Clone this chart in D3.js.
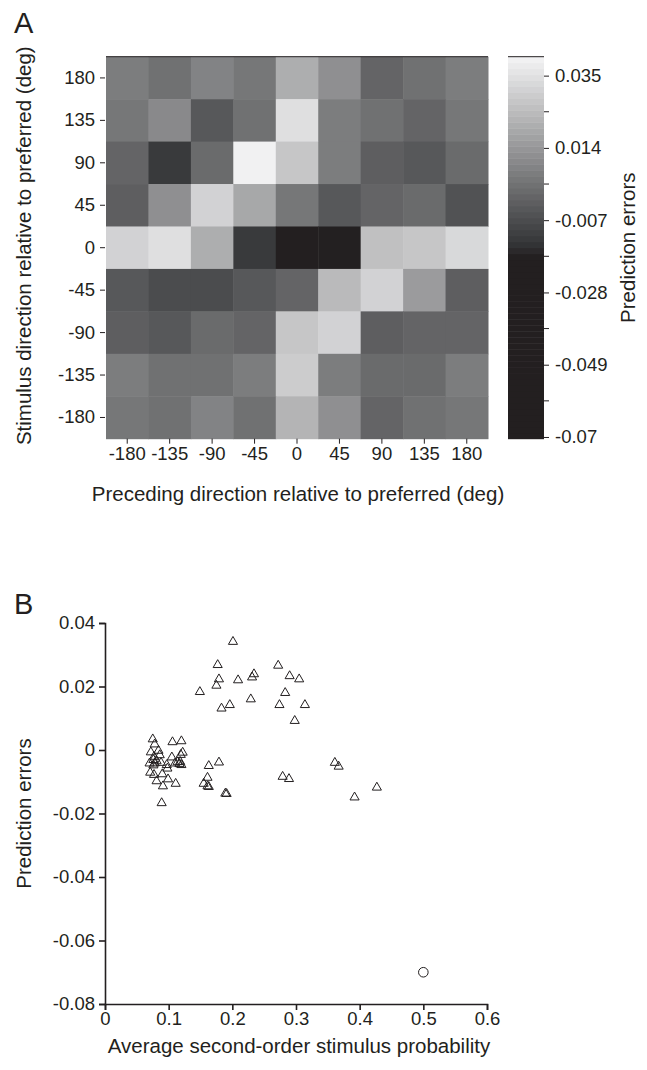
<!DOCTYPE html>
<html>
<head>
<meta charset="utf-8">
<script src="https://cdn.jsdelivr.net/npm/d3@7"></script>
<style>
  body { margin: 0; background: #fff; }
  svg { font-family: "Liberation Sans", Arial, sans-serif; }
  text { fill: #231f20; }
</style>
</head>
<body>
<svg width="647" height="1070"></svg>
<script>
// ---- panel A data ----
var precedingDirs = [-180, -135, -90, -45, 0, 45, 90, 135, 180];
var stimulusDirs = [180, 135, 90, 45, 0, -45, -90, -135, -180];

// rows follow stimulusDirs (top to bottom), columns follow precedingDirs
var errRow180 = [0.0060, 0.0024, 0.0085, 0.0049, 0.0205, 0.0124, -0.0007, 0.0037, 0.0060];
var errRow135 = [0.0049, 0.0093, -0.0035, 0.0032, 0.0349, 0.0060, 0.0026, -0.0007, 0.0049];
var errRow90 = [-0.0007, -0.0124, 0.0012, 0.0400, 0.0283, 0.0062, -0.0027, -0.0035, 0.0007];
var errRow45 = [-0.0013, 0.0124, 0.0302, 0.0193, 0.0046, -0.0035, -0.0007, 0.0007, -0.0052];
var errRow0 = [0.0313, 0.0341, 0.0205, -0.0132, -0.0700, -0.0169, 0.0249, 0.0283, 0.0333];
var errRowM45 = [-0.0038, -0.0071, -0.0074, -0.0043, -0.0007, 0.0244, 0.0305, 0.0157, -0.0027];
var errRowM90 = [-0.0027, -0.0038, 0.0007, -0.0007, 0.0283, 0.0305, -0.0027, -0.0007, -0.0007];
var errRowM135 = [0.0060, 0.0026, 0.0024, 0.0060, 0.0288, 0.0060, 0.0007, 0.0012, 0.0071];
var errRowM180 = [0.0046, 0.0037, 0.0082, 0.0040, 0.0218, 0.0115, -0.0007, 0.0037, 0.0046];

var colorbarTicks = [0.035, 0.014, -0.007, -0.028, -0.049, -0.07];
var colorbarMinor = [0.0245, 0.0035, -0.0175, -0.0385, -0.0595];

// ---- panel B data ----
var probUpper = [0.201, 0.177, 0.272, 0.179, 0.175, 0.209, 0.234, 0.231, 0.290, 0.305, 0.149, 0.283, 0.229, 0.183, 0.196, 0.274, 0.314, 0.298];
var errUpper = [0.0341, 0.0268, 0.0266, 0.0223, 0.0203, 0.0220, 0.0239, 0.0229, 0.0233, 0.0223, 0.0183, 0.0180, 0.0160, 0.0131, 0.0142, 0.0142, 0.0142, 0.0092];

var probLower = [0.361, 0.367, 0.279, 0.289, 0.427, 0.392,
  0.163, 0.179, 0.161, 0.155, 0.161, 0.163, 0.189, 0.191];
var errLower = [-0.0040, -0.0052, -0.0084, -0.0091, -0.0118, -0.0149,
  -0.0050, -0.0039, -0.0087, -0.0106, -0.0114, -0.0116, -0.0137, -0.0138];

var probCluster = [0.075, 0.078, 0.106, 0.120, 0.072, 0.084, 0.086, 0.122, 0.119, 0.105,
  0.070, 0.076, 0.078, 0.077, 0.088, 0.097, 0.098, 0.110, 0.114, 0.120, 0.118,
  0.071, 0.077, 0.090, 0.081, 0.099, 0.091, 0.111, 0.089, 0.076, 0.081, 0.117];
var errCluster = [0.0034, 0.0018, 0.0025, 0.0028, -0.0007, -0.0002, -0.0016, -0.0008, -0.0015, -0.0023,
  -0.0042, -0.0031, -0.0042, -0.0021, -0.0040, -0.0047, -0.0058, -0.0042, -0.0038, -0.0047, -0.0037,
  -0.0071, -0.0078, -0.0076, -0.0098, -0.0092, -0.0114, -0.0106, -0.0167, -0.0048, -0.0035, -0.0044];

var probOutlier = [0.5];
var errOutlier = [-0.07];

var xTicksB = [0, 0.1, 0.2, 0.3, 0.4, 0.5, 0.6];
var yTicksB = [0.04, 0.02, 0, -0.02, -0.04, -0.06, -0.08];

var ink = "#231f20";
var tickFont = 18.5, titleFont = 20.5;
var svg = d3.select("svg");

// plain hyphen for negatives, like the original figure
var plain = function(d) { return String(d); };

// ================= panel A =================
var matrix = [errRow180, errRow135, errRow90, errRow45, errRow0, errRowM45, errRowM90, errRowM135, errRowM180];
var cells = [];
matrix.forEach(function(row, i) {
    row.forEach(function(v, j) {
        cells.push({stim: stimulusDirs[i], prev: precedingDirs[j], value: v});
    });
});

var hm = {left: 106, top: 56.7, size: 382};

var xA = d3.scaleBand().domain(precedingDirs).range([hm.left, hm.left + hm.size]);
var yA = d3.scaleBand().domain(stimulusDirs).range([hm.top, hm.top + hm.size]);

var cDomain = [-0.0705, 0.0405];
var grey = d3.scaleLinear()
    .domain([-0.0177, -0.014, 0.0405])
    .range([ink, "#333436", "#f4f4f5"])
    .clamp(true);
var nLevels = 64;
var levels = d3.range(nLevels).map(function(k) {
    return grey(cDomain[0] + (k + 0.5) * (cDomain[1] - cDomain[0]) / nLevels);
});
var color = d3.scaleQuantize().domain(cDomain).range(levels);

svg.append("g").selectAll("rect")
    .data(cells)
    .join("rect")
    .attr("x", function(d) { return xA(d.prev); })
    .attr("y", function(d) { return yA(d.stim); })
    .attr("width", xA.bandwidth() + 0.5)
    .attr("height", yA.bandwidth() + 0.5)
    .attr("fill", function(d) { return color(d.value); });

svg.append("line")
    .attr("x1", hm.left).attr("x2", hm.left + hm.size)
    .attr("y1", hm.top).attr("y2", hm.top)
    .attr("stroke", ink).attr("stroke-width", 1);

var axA_y = svg.append("g")
    .attr("transform", "translate(" + (hm.left - 1) + ",0)")
    .call(d3.axisLeft(yA).tickSize(5).tickPadding(5));
var axA_x = svg.append("g")
    .attr("transform", "translate(0," + (hm.top + hm.size) + ")")
    .call(d3.axisBottom(xA).tickSize(5).tickPadding(3));
[axA_y, axA_x].forEach(function(g) {
    g.select(".domain").remove();
    g.selectAll(".tick line").attr("stroke", ink);
    g.selectAll(".tick text").attr("font-size", tickFont).attr("fill", ink);
});

svg.append("text")
    .attr("x", 298).attr("y", 501)
    .attr("text-anchor", "middle")
    .attr("font-size", titleFont)
    .text("Preceding direction relative to preferred (deg)");

svg.append("text")
    .attr("transform", "translate(31," + (hm.top + hm.size / 2 - 2) + ") rotate(-90)")
    .attr("text-anchor", "middle")
    .attr("font-size", titleFont)
    .text("Stimulus direction relative to preferred (deg)");

svg.append("text")
    .attr("x", 14).attr("y", 33)
    .attr("font-size", 29)
    .text("A");

// colorbar
var cb = {left: 508, width: 36};
var yC = d3.scaleLinear().domain(cDomain).range([hm.top + hm.size, hm.top]);
svg.append("g").selectAll("rect")
    .data(levels)
    .join("rect")
    .attr("x", cb.left)
    .attr("width", cb.width)
    .attr("y", function(d, k) { return yC(cDomain[0] + (k + 1) * (cDomain[1] - cDomain[0]) / nLevels); })
    .attr("height", function(d, k) {
        return yC(cDomain[0] + k * (cDomain[1] - cDomain[0]) / nLevels) -
               yC(cDomain[0] + (k + 1) * (cDomain[1] - cDomain[0]) / nLevels) + 0.5;
    })
    .attr("fill", function(d) { return d; });

svg.append("line")
    .attr("x1", cb.left).attr("x2", cb.left + cb.width)
    .attr("y1", hm.top).attr("y2", hm.top)
    .attr("stroke", ink).attr("stroke-width", 1);

var axC = svg.append("g")
    .attr("transform", "translate(" + (cb.left + cb.width) + ",0)")
    .call(d3.axisRight(yC).tickValues(colorbarTicks).tickFormat(plain).tickSize(5).tickPadding(6));
axC.select(".domain").remove();
axC.selectAll(".tick line").attr("stroke", ink);
axC.selectAll(".tick text").attr("font-size", tickFont).attr("fill", ink);

svg.append("g")
    .attr("transform", "translate(" + (cb.left + cb.width) + ",0)")
    .selectAll("line")
    .data(colorbarMinor)
    .join("line")
    .attr("x1", 0).attr("x2", 5)
    .attr("y1", function(d) { return yC(d); })
    .attr("y2", function(d) { return yC(d); })
    .attr("stroke", ink);

svg.append("text")
    .attr("transform", "translate(635," + (hm.top + hm.size / 2) + ") rotate(-90)")
    .attr("text-anchor", "middle")
    .attr("font-size", titleFont)
    .text("Prediction errors");

// ================= panel B =================
var xB = d3.scaleLinear().domain([0, 0.6]).range([105, 487]);
var yB = d3.scaleLinear().domain([-0.08, 0.04]).range([1004, 623]);

var axB_x = svg.append("g")
    .attr("transform", "translate(0,1004)")
    .call(d3.axisBottom(xB).tickValues(xTicksB).tickFormat(plain).tickSize(6).tickPadding(2));
var axB_y = svg.append("g")
    .attr("transform", "translate(105,0)")
    .call(d3.axisLeft(yB).tickValues(yTicksB).tickFormat(plain).tickSize(6).tickPadding(4));
[axB_x, axB_y].forEach(function(g) {
    g.select(".domain").attr("stroke", ink).attr("stroke-width", 1.6);
    g.selectAll(".tick line").attr("stroke", ink).attr("stroke-width", 1.6);
    g.selectAll(".tick text").attr("font-size", tickFont).attr("fill", ink);
});

var triPoints = [];
[[probUpper, errUpper], [probLower, errLower], [probCluster, errCluster]].forEach(function(s) {
    s[0].forEach(function(p, i) { triPoints.push({prob: p, err: s[1][i]}); });
});

var tri = d3.symbol().type(d3.symbolTriangle).size(36);
svg.append("g").selectAll("path")
    .data(triPoints)
    .join("path")
    .attr("transform", function(d) { return "translate(" + xB(d.prob) + "," + yB(d.err) + ")"; })
    .attr("d", tri)
    .attr("fill", "none")
    .attr("stroke", ink)
    .attr("stroke-width", 1);

svg.append("g").selectAll("circle")
    .data(probOutlier)
    .join("circle")
    .attr("cx", function(d) { return xB(d); })
    .attr("cy", function(d, i) { return yB(errOutlier[i]); })
    .attr("r", 4.8)
    .attr("fill", "none")
    .attr("stroke", ink)
    .attr("stroke-width", 1);

svg.append("text")
    .attr("x", 299).attr("y", 1053)
    .attr("text-anchor", "middle")
    .attr("font-size", titleFont)
    .text("Average second-order stimulus probability");

svg.append("text")
    .attr("transform", "translate(31," + yB(-0.02) + ") rotate(-90)")
    .attr("text-anchor", "middle")
    .attr("font-size", titleFont)
    .text("Prediction errors");

svg.append("text")
    .attr("x", 14).attr("y", 614)
    .attr("font-size", 29)
    .text("B");
</script>
</body>
</html>
